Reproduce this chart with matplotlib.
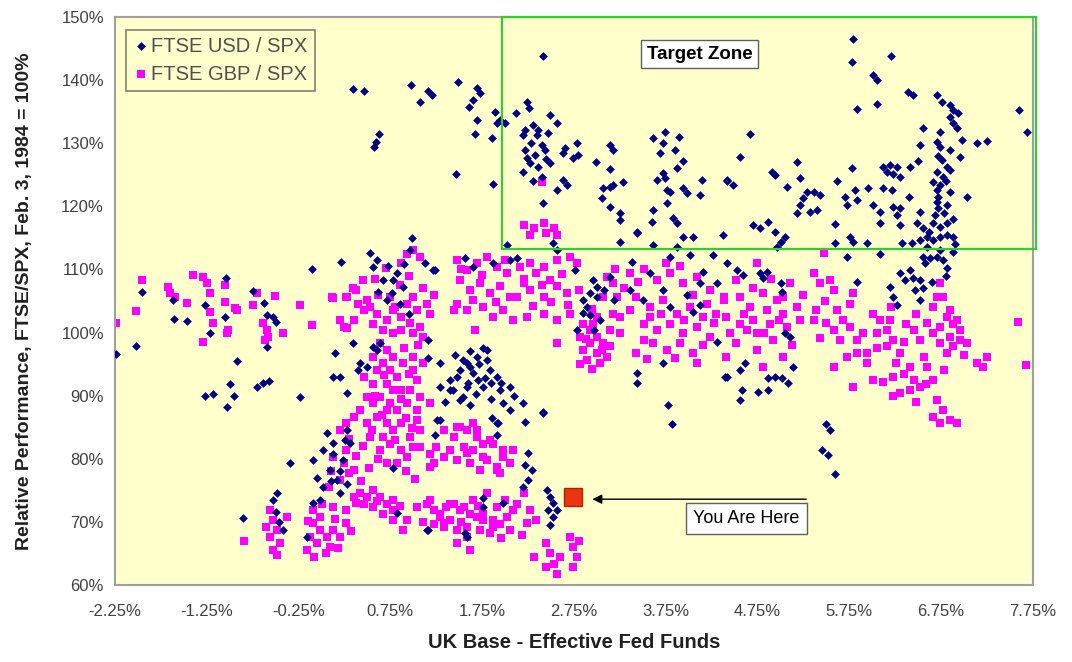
import matplotlib
matplotlib.use("Agg")
import matplotlib.pyplot as plt
from matplotlib.patches import Rectangle
import numpy as np

plt.rcParams['font.family'] = ['Liberation Sans', 'DejaVu Sans']

# FTSE USD / SPX  (x = UK base - eff. fed funds, %, y = relative performance, %)
usd_left = [(-2.24, 96.6), (-2.02, 97.9), (-1.96, 106.4), (-1.62, 105.1), (-1.61, 102.1), (-1.47, 101.8),
            (-1.04, 108.6), (-1.27, 104.4), (-1.05, 102.5), (-1.22, 99.9), (-0.92, 95.5), (-1.00, 91.8),
            (-1.27, 89.9), (-1.18, 90.3), (-0.95, 89.9), (-1.03, 88.2), (-0.70, 91.4), (-0.64, 92.0),
            (-0.57, 92.3), (-0.75, 106.6), (-0.63, 104.7), (-0.59, 102.8), (-0.53, 102.5), (-0.50, 101.7),
            (-0.59, 97.7), (-0.23, 89.8), (-0.10, 110.1), (0.21, 111.2), (0.15, 96.8), (0.20, 93.0),
            (0.12, 93.0), (0.34, 98.3), (0.53, 112.6), (0.56, 110.4), (0.67, 108.3), (0.78, 108.3),
            (0.77, 106.3), (0.82, 109.4), (0.89, 107.2), (0.99, 115.0), (0.96, 113.1), (0.71, 105.1),
            (0.56, 97.7), (0.60, 97.2), (0.64, 98.3), (0.42, 95.2), (0.50, 94.5), (0.40, 94.1), (0.28, 90.4),
            (0.60, 111.5), (0.72, 110.5), (0.90, 110.8), (0.85, 104.5), (0.95, 103.0), (0.62, 106.5)]
usd_mid = [(1.21, 109.9), (1.13, 111.0), (1.16, 98.8), (1.16, 96.0), (1.29, 95.2), (1.76, 97.5), (1.69, 96.1),
           (1.80, 95.6), (1.58, 95.2), (1.51, 94.1), (1.65, 93.6), (1.84, 94.1), (1.91, 93.0), (1.40, 92.5),
           (1.43, 90.9), (1.58, 91.4), (1.76, 91.4), (1.94, 90.9), (1.54, 89.8), (1.29, 91.4), (1.98, 88.8),
           (2.05, 87.7), (1.29, 86.1), (1.91, 85.7), (1.80, 97.2), (1.54, 95.6), (2.05, 91.4), (2.19, 88.8),
           (2.41, 87.4), (1.40, 90.9), (1.51, 89.3), (1.62, 97.0), (1.70, 92.5), (1.85, 92.0),
           (1.45, 96.5), (1.62, 94.5), (1.72, 95.0), (1.47, 93.0), (1.60, 92.0), (1.78, 92.8), (1.95, 92.0),
           (1.68, 90.2), (1.85, 89.5), (1.35, 89.0), (1.62, 88.5), (2.10, 90.0)]
usd_low = [(0.02, 81.4), (-0.09, 79.8), (0.09, 78.2), (0.23, 79.8), (0.31, 82.5), (0.28, 84.5), (0.06, 84.1),
           (0.17, 76.6), (0.02, 75.5), (0.20, 74.6), (-0.09, 73.0), (-0.02, 73.5), (-0.34, 79.3), (-0.49, 74.6),
           (-0.53, 73.5), (-0.86, 70.6), (-0.42, 68.7), (-0.16, 67.6), (0.78, 78.5), (0.82, 71.4), (1.16, 68.7),
           (1.58, 67.6), (1.76, 72.3), (1.98, 73.0), (-0.50, 71.5), (-0.46, 70.0), (0.12, 80.8), (0.25, 83.0),
           (2.25, 80.9), (2.22, 79.0), (2.29, 78.2), (2.25, 76.6), (2.19, 75.5), (2.46, 75.0), (2.49, 73.9),
           (2.52, 73.0), (2.47, 71.9), (2.52, 70.8), (2.49, 69.5), (2.56, 71.9), (1.26, 86.1), (1.24, 83.8),
           (1.86, 86.4), (1.92, 85.7), (1.91, 83.8), (2.22, 85.8), (2.41, 87.2), (1.76, 73.8), (1.15, 68.7),
           (1.56, 68.2), (3.82, 85.5), (3.77, 88.5), (0.12, 82.5), (0.20, 78.0), (0.10, 76.5), (-0.05, 77.0),
           (0.28, 76.0)]
usd_top_left = [(0.34, 138.6), (0.46, 138.3), (0.97, 139.2), (1.16, 138.3), (1.20, 137.6), (1.07, 136.5),
                (1.49, 139.7), (1.69, 138.7), (1.73, 138.0), (1.65, 136.8), (1.61, 135.7), (1.69, 133.7),
                (1.67, 131.4), (1.86, 130.8), (1.89, 135.0), (1.91, 133.2), (1.94, 133.7), (2.00, 133.2),
                (2.12, 134.8), (0.63, 131.4), (0.59, 130.2), (0.57, 129.4), (1.46, 125.1), (1.87, 123.5)]
usd_zone_a = [(2.41, 143.8), (2.24, 136.5), (2.26, 135.6), (2.49, 134.5), (2.56, 133.2), (2.22, 132.1),
              (2.19, 131.3), (2.30, 132.9), (2.36, 132.1), (2.35, 131.3), (2.47, 131.6), (2.22, 128.9),
              (2.24, 127.6), (2.27, 126.8), (2.40, 129.7), (2.43, 128.9), (2.33, 128.1), (2.49, 126.8),
              (2.36, 126.2), (2.19, 125.4), (2.40, 124.6), (2.41, 120.6), (2.65, 129.2), (2.63, 128.4),
              (2.78, 130.0), (2.74, 127.6), (2.79, 128.1), (2.99, 127.0), (3.14, 129.7), (3.17, 128.9),
              (3.14, 125.9), (2.63, 124.2), (2.67, 123.4), (2.56, 122.6), (3.07, 122.9), (3.14, 123.1),
              (3.17, 123.4), (3.28, 123.9), (3.06, 121.3), (3.14, 119.9), (3.25, 118.9), (3.25, 117.8),
              (3.44, 115.9), (3.60, 117.5), (3.61, 119.4), (3.61, 130.8), (3.74, 131.8), (3.89, 131.0),
              (3.72, 130.0), (3.85, 128.9), (3.69, 128.4), (3.94, 127.2), (3.87, 126.1), (3.72, 125.3),
              (3.74, 124.5), (3.65, 124.2), (3.76, 122.6), (3.80, 122.3), (3.94, 122.9), (3.98, 122.1),
              (3.76, 120.5), (4.14, 124.2), (4.12, 121.8), (4.42, 124.0), (3.83, 118.1), (3.87, 117.4),
              (2.28, 130.0), (2.45, 127.5), (2.30, 124.0)]
usd_zone_b = [(5.79, 146.5), (5.78, 142.9), (6.20, 143.8), (6.01, 140.8), (6.05, 140.0), (5.83, 135.4),
              (6.05, 136.2), (6.39, 138.1), (6.44, 137.6), (6.70, 137.6), (6.76, 136.5), (6.85, 136.1),
              (6.88, 135.3), (6.93, 134.8), (6.85, 134.2), (6.88, 133.2), (6.92, 132.4), (7.60, 135.3),
              (7.68, 131.8), (6.55, 132.4), (6.74, 131.8), (6.52, 129.7), (6.70, 130.2), (6.74, 129.4),
              (6.85, 128.9), (6.98, 130.5), (7.14, 130.0), (7.25, 130.3), (6.95, 127.8), (6.50, 127.2),
              (6.76, 127.3), (6.81, 126.2), (6.70, 125.4), (6.77, 124.6), (6.85, 125.8), (6.66, 123.9),
              (6.74, 123.4), (6.70, 122.6), (6.85, 122.3), (7.03, 121.5), (6.41, 126.2), (6.12, 126.2),
              (6.19, 126.5), (6.27, 126.2), (6.16, 125.4), (6.23, 125.1), (6.30, 124.6), (5.78, 126.1),
              (5.62, 124.0), (6.12, 122.9), (6.21, 122.6), (6.40, 121.5), (5.95, 122.9), (5.81, 122.6),
              (5.83, 121.0), (5.70, 121.5), (5.72, 120.2), (6.01, 120.2), (6.08, 119.1), (6.23, 119.9),
              (6.30, 119.7), (6.27, 118.6), (6.52, 119.1), (6.70, 120.7), (6.72, 119.7), (6.68, 118.6),
              (6.81, 120.2), (6.49, 117.4), (6.55, 116.6), (6.66, 117.4), (6.74, 116.7), (6.81, 117.4),
              (6.08, 117.4), (6.30, 117.0), (5.59, 117.2), (5.21, 124.5), (5.07, 123.1), (5.18, 127.0),
              (4.91, 125.4), (4.94, 125.0), (5.29, 122.3), (5.36, 122.3), (5.43, 121.8), (5.25, 121.3),
              (5.21, 120.2), (5.18, 118.9), (5.32, 119.1), (5.40, 119.4), (4.42, 124.2), (4.48, 123.4),
              (4.67, 131.5), (4.56, 127.8), (4.70, 117.0), (4.78, 116.6), (4.86, 117.5), (4.94, 115.9),
              (6.72, 128.0), (6.80, 124.0), (6.72, 121.5), (6.78, 119.0), (6.88, 118.0), (6.62, 116.0)]
usd_band = [(2.02, 113.9), (2.05, 111.5), (2.13, 111.8), (1.56, 111.8), (1.65, 110.4), (1.87, 111.0),
            (1.24, 109.9), (2.52, 114.2), (2.56, 113.1), (2.76, 109.9), (3.25, 114.3), (3.44, 115.7),
            (3.61, 113.9), (3.38, 111.2), (3.80, 112.0), (3.87, 113.6), (3.94, 115.1), (4.01, 112.3),
            (4.05, 115.1), (4.26, 112.3), (4.37, 115.5), (4.16, 109.6), (4.12, 107.8), (4.31, 107.8),
            (2.96, 108.3), (3.00, 107.2), (2.92, 106.3), (2.85, 105.2), (2.89, 104.1), (3.00, 105.6),
            (2.78, 100.4), (2.85, 103.1), (3.14, 108.8), (3.36, 106.7), (3.50, 105.2), (3.58, 109.4),
            (3.72, 106.7), (3.80, 104.1), (3.98, 105.9), (4.05, 103.2), (4.12, 104.4), (4.31, 98.5),
            (3.72, 95.2), (3.44, 93.6), (3.44, 92.0), (4.40, 92.9), (2.92, 102.8), (3.03, 102.0),
            (2.97, 100.4), (3.08, 106.7), (3.19, 105.2)]
usd_right = [(4.42, 111.0), (4.53, 109.9), (4.59, 109.1), (4.78, 109.4), (4.81, 108.6), (4.85, 109.6),
             (5.00, 107.8), (5.02, 106.4), (5.10, 99.3), (5.05, 99.9), (4.42, 92.9), (4.56, 94.1),
             (4.61, 95.2), (4.58, 90.9), (4.56, 89.3), (4.75, 90.6), (4.86, 90.9), (4.86, 92.8),
             (4.94, 93.0), (5.02, 92.8), (5.08, 92.0), (5.14, 94.5), (5.00, 114.3), (5.05, 115.1),
             (4.96, 113.6), (5.59, 114.2), (5.72, 112.0), (5.76, 115.1), (5.79, 114.3), (5.94, 114.2),
             (6.08, 112.4), (5.83, 108.0), (6.19, 107.2), (6.23, 105.6), (6.27, 104.4), (6.30, 109.4),
             (6.41, 109.9), (6.44, 108.6), (6.52, 108.3), (6.55, 107.0), (6.32, 114.2), (6.43, 114.2),
             (6.52, 114.7), (6.60, 115.1), (6.66, 114.7), (6.74, 115.1), (6.81, 115.5), (6.88, 115.1),
             (6.60, 113.6), (6.74, 113.1), (6.88, 112.8), (6.77, 111.5), (6.81, 110.2), (6.55, 112.0),
             (6.57, 111.0), (5.50, 85.5), (5.54, 84.5), (5.45, 81.4), (5.52, 80.6), (5.59, 77.6),
             (6.36, 108.3), (6.47, 106.7), (6.52, 105.2), (6.63, 111.8), (6.90, 114.0), (6.70, 112.0),
             (6.80, 109.0), (6.65, 108.0)]

# FTSE GBP / SPX
gbp_left = [(-2.24, 101.5), (-2.02, 103.4), (-1.96, 108.3), (-1.67, 107.2), (-1.65, 106.3), (-1.60, 105.6),
            (-1.47, 104.7), (-1.40, 109.1), (-1.29, 108.8), (-1.25, 107.8), (-1.22, 106.3), (-1.22, 103.2),
            (-1.18, 101.5), (-1.29, 98.5), (-1.05, 107.5), (-1.05, 104.8), (-0.94, 103.9), (-0.92, 103.6),
            (-1.02, 100.4), (-1.03, 99.9), (-0.75, 104.4), (-0.70, 106.3), (-0.51, 105.8), (-0.64, 101.5),
            (-0.59, 100.4), (-0.58, 99.3), (-0.62, 98.8), (-0.42, 99.9), (-0.23, 104.4), (-0.10, 101.2),
            (0.11, 105.6), (0.28, 105.6), (0.34, 107.1), (0.20, 102.0), (0.28, 100.7), (0.45, 108.3)]
gbp_column = [(0.13, 105.4), (0.27, 105.7), (0.38, 106.7), (0.49, 105.1), (0.46, 103.6), (0.53, 104.1),
              (0.60, 103.0), (0.56, 101.4), (0.71, 102.0), (0.78, 103.6), (0.86, 102.5), (0.93, 104.6),
              (1.00, 105.7), (1.04, 103.6), (0.96, 101.5), (1.07, 100.9), (1.15, 104.6), (1.18, 103.0),
              (0.93, 112.5), (1.00, 113.1), (1.07, 112.0), (0.86, 111.0), (0.75, 105.7), (0.67, 100.4),
              (0.78, 99.9), (0.86, 100.4), (1.00, 99.9), (1.11, 99.3), (0.35, 102.0), (0.24, 100.9),
              (0.20, 102.0), (0.64, 98.3), (0.71, 97.2), (0.78, 96.2), (0.67, 95.1), (0.75, 94.1),
              (0.82, 93.0), (0.71, 91.9), (0.78, 90.9), (0.64, 89.8), (0.75, 88.8), (0.82, 87.7),
              (0.60, 86.7), (0.71, 85.6), (0.78, 84.5), (0.67, 83.5), (0.75, 82.4), (0.86, 81.4),
              (0.64, 81.4), (0.53, 83.5), (0.49, 85.6), (0.42, 87.7), (0.49, 89.8), (0.56, 91.9),
              (0.46, 93.0), (0.35, 86.7), (0.27, 85.6), (0.20, 84.5), (0.89, 95.1), (1.00, 94.1),
              (1.04, 92.5), (0.96, 90.9), (1.07, 89.8), (0.93, 88.8), (1.00, 96.2), (1.11, 95.1),
              (1.18, 88.8), (1.04, 87.7), (0.96, 83.5), (1.07, 81.9), (1.18, 80.8), (0.93, 80.3),
              (0.82, 79.3), (0.71, 79.3), (0.56, 96.2), (0.60, 94.1), (0.86, 85.6), (0.56, 88.8),
              (0.71, 87.7), (0.86, 90.9), (0.40, 104.5), (0.62, 106.0), (0.85, 107.5), (0.70, 110.2),
              (0.95, 109.0), (1.10, 107.0), (1.22, 106.0), (0.58, 108.5), (0.80, 104.0), (1.05, 98.0),
              (0.90, 97.5), (0.95, 93.5), (0.68, 93.2), (0.58, 90.0), (0.86, 89.5), (0.66, 87.0),
              (0.92, 86.5), (0.55, 84.5), (0.80, 83.0), (0.98, 84.8), (0.62, 80.0), (0.45, 82.0),
              (0.38, 80.5), (0.30, 83.2), (0.52, 78.5), (0.92, 78.0), (1.02, 76.8), (0.43, 76.5),
              (0.30, 77.8), (0.10, 78.0), (0.08, 75.5)]
gbp_low = [(-0.09, 71.9), (-0.02, 70.8), (-0.09, 69.8), (-0.02, 68.7), (-0.13, 67.6), (-0.05, 66.6),
           (-0.16, 65.5), (0.06, 67.6), (0.13, 68.7), (0.20, 67.6), (0.09, 66.1), (0.27, 69.8), (0.27, 71.9),
           (0.13, 72.4), (0.35, 74.0), (0.42, 74.5), (0.49, 74.0), (0.56, 75.0), (0.64, 74.0), (0.71, 72.9),
           (0.78, 73.4), (0.46, 72.9), (0.56, 72.4), (0.67, 71.3), (0.78, 71.9), (0.20, 76.6), (0.24, 79.3),
           (0.27, 81.4), (0.13, 80.3), (0.35, 78.2), (0.78, 70.3), (0.93, 70.3), (0.89, 68.7), (1.04, 72.4),
           (1.15, 72.9), (1.22, 71.9), (1.29, 70.8), (1.36, 72.4), (1.44, 72.9), (1.55, 72.4), (1.62, 71.3),
           (1.69, 70.8), (1.76, 71.3), (1.87, 70.3), (1.94, 69.7), (2.02, 70.8), (2.09, 71.9), (1.22, 69.7),
           (1.33, 69.2), (1.47, 68.7), (1.58, 67.6), (1.47, 66.6), (1.73, 68.7), (1.84, 68.2), (1.40, 70.3),
           (-0.56, 71.9), (-0.53, 70.3), (-0.60, 69.2), (-0.49, 68.7), (-0.56, 67.6), (-0.45, 66.6),
           (-0.53, 65.5), (-0.49, 64.7), (-0.38, 70.8), (-0.85, 66.9), (0.38, 73.0), (0.60, 73.3),
           (0.85, 72.5), (0.15, 70.5), (0.00, 72.8), (-0.15, 70.2), (0.05, 65.0), (-0.08, 64.5),
           (0.18, 65.8), (0.32, 68.5), (1.10, 70.0), (1.52, 70.0), (1.70, 72.5), (2.00, 73.5),
           (2.18, 68.0), (1.95, 67.5), (1.62, 65.5)]
gbp_mid = [(1.33, 84.5), (1.44, 83.5), (1.58, 84.5), (1.69, 83.5), (1.76, 82.4), (1.65, 81.4), (1.55, 81.9),
           (1.40, 81.4), (1.33, 80.3), (1.47, 79.8), (1.62, 79.3), (1.80, 79.8), (1.91, 78.7), (1.98, 80.3),
           (2.05, 79.3), (1.73, 78.2), (2.09, 81.4), (1.47, 85.1), (1.65, 85.6), (1.87, 82.4), (1.94, 77.7),
           (1.07, 84.5), (1.22, 79.3), (1.25, 81.9), (1.51, 85.1), (1.69, 84.5), (1.84, 83.0), (1.98, 81.4),
           (1.40, 81.4), (1.58, 80.9), (1.76, 80.3), (1.91, 78.2), (1.04, 86.1), (1.18, 78.7), (1.00, 81.9),
           (1.04, 72.4), (1.18, 73.5), (1.29, 71.3), (1.40, 72.9), (1.51, 71.9), (1.65, 73.5), (1.80, 74.5),
           (1.91, 72.4), (2.02, 70.8), (2.13, 72.9), (2.20, 74.5), (2.27, 71.9), (2.24, 69.8), (2.34, 70.3),
           (1.33, 69.8), (1.58, 69.2), (1.76, 70.3), (1.87, 69.2), (2.05, 68.7), (2.31, 64.5),
           (2.45, 66.6), (2.49, 65.0), (2.53, 63.4), (2.56, 61.8), (2.45, 62.9), (2.60, 64.5), (2.71, 67.6),
           (2.74, 66.1), (2.78, 64.5), (2.74, 62.9), (2.80, 66.9)]
gbp_band = [(1.47, 111.5), (1.58, 109.9), (1.69, 111.0), (1.80, 112.0), (1.91, 110.4), (2.02, 109.4),
            (1.51, 108.3), (1.62, 106.7), (1.73, 107.8), (1.84, 106.2), (1.94, 107.3), (2.05, 105.7),
            (1.47, 104.6), (1.58, 103.6), (1.76, 104.1), (1.87, 102.5), (1.98, 103.6), (2.09, 102.0),
            (1.67, 100.4), (1.44, 103.6), (2.16, 110.4), (2.27, 111.0), (2.42, 110.4), (2.56, 111.5),
            (2.71, 112.0), (2.78, 111.0), (2.13, 105.7), (2.27, 106.7), (2.42, 105.7), (2.56, 107.3),
            (2.67, 106.2), (2.24, 102.5), (2.42, 103.0), (2.56, 102.0), (2.71, 103.0), (2.56, 98.3),
            (2.34, 109.4), (2.49, 108.3), (2.20, 107.8), (2.20, 117.0), (2.31, 116.5), (2.42, 117.3),
            (2.53, 116.5), (2.27, 115.5), (2.45, 115.7), (2.56, 115.5), (2.40, 123.9),
            (2.85, 101.4), (2.92, 100.4), (3.00, 99.3), (3.07, 98.3), (2.92, 98.3), (2.85, 97.2),
            (3.00, 96.7), (3.11, 96.2), (2.89, 95.6), (3.03, 95.1), (3.14, 100.4), (3.18, 103.0),
            (3.07, 105.7), (3.18, 107.8), (3.11, 108.8), (3.22, 105.7), (3.00, 102.5), (2.82, 99.3),
            (2.96, 101.4), (3.14, 97.8), (3.25, 99.9), (3.36, 109.4), (3.51, 110.0), (3.65, 108.3),
            (3.80, 109.4), (3.94, 107.8), (4.09, 108.8), (4.23, 106.7), (4.38, 105.7), (3.43, 105.7),
            (3.58, 104.1), (3.72, 105.1), (3.87, 103.0), (4.01, 104.1), (4.16, 102.5), (4.30, 103.0),
            (3.51, 101.4), (3.65, 100.4), (3.80, 101.4), (3.94, 99.9), (4.09, 100.9), (4.23, 99.3),
            (3.61, 98.3), (3.76, 97.2), (3.91, 98.3), (4.05, 96.7), (4.09, 95.1), (3.43, 96.7),
            (4.41, 96.2), (3.51, 98.8), (3.36, 103.6), (3.25, 102.5), (1.52, 110.0), (1.75, 109.2),
            (2.00, 111.5), (2.20, 108.5), (2.40, 107.5), (2.62, 109.3), (2.80, 106.8), (1.65, 105.2),
            (1.90, 104.8), (2.30, 104.2), (2.50, 104.8), (2.68, 104.3), (2.95, 103.8), (2.82, 95.0),
            (2.95, 94.2), (2.88, 99.0), (3.05, 97.3), (3.20, 110.0), (3.30, 107.0), (3.45, 108.0),
            (3.75, 111.0), (3.90, 110.5), (4.05, 106.0), (4.20, 104.5), (3.58, 102.5), (3.70, 103.0),
            (3.95, 102.0), (4.15, 98.0), (3.85, 96.0), (3.55, 95.8)]
gbp_right = [(4.38, 105.1), (4.41, 102.5), (4.41, 96.2), (4.52, 108.3), (4.56, 105.7), (4.56, 101.4),
             (4.52, 98.3), (4.67, 104.1), (4.70, 102.0), (4.74, 99.9), (4.74, 97.2), (4.74, 111.0),
             (4.85, 103.6), (4.89, 101.4), (4.92, 98.8), (4.96, 105.1), (5.03, 103.0), (5.07, 100.9),
             (5.10, 107.8), (5.18, 104.1), (5.21, 102.0), (5.03, 96.2), (4.81, 94.6), (5.03, 105.7),
             (4.63, 100.4), (4.81, 106.2), (5.36, 109.4), (5.43, 107.8), (5.54, 108.3), (5.58, 106.7),
             (5.39, 103.6), (5.36, 102.0), (5.43, 99.1), (5.61, 103.6), (5.58, 100.4), (5.65, 98.8),
             (5.76, 100.9), (5.79, 106.2), (5.76, 104.6), (5.83, 98.8), (5.72, 96.2), (5.83, 96.7),
             (5.94, 96.7), (5.58, 94.6), (5.79, 91.4), (5.47, 112.6), (6.01, 103.0), (6.08, 102.0),
             (6.05, 99.9), (6.16, 100.4), (6.19, 102.0), (6.23, 98.8), (6.16, 97.8), (6.30, 96.7),
             (6.26, 95.1), (6.34, 93.5), (6.41, 94.6), (6.45, 92.5), (6.52, 91.4), (6.59, 91.9),
             (6.66, 92.5), (6.37, 101.4), (6.45, 100.4), (6.48, 103.0), (6.52, 98.8), (6.56, 96.2),
             (6.01, 92.5), (6.12, 92.2), (6.30, 90.4), (6.41, 90.9), (5.94, 95.1), (6.23, 93.0),
             (6.74, 107.8), (6.77, 105.7), (6.66, 104.1), (6.81, 102.5), (6.74, 100.9), (6.88, 101.4),
             (6.96, 100.4), (6.85, 99.3), (6.74, 98.3), (6.88, 97.8), (6.81, 96.7), (7.03, 98.3),
             (6.66, 99.9), (6.92, 102.0), (6.70, 105.7), (6.70, 89.3), (6.77, 87.7), (6.66, 86.7),
             (6.74, 85.6), (6.85, 86.1), (6.92, 85.6), (7.14, 95.1), (7.25, 96.2), (7.21, 94.6),
             (7.59, 101.6), (7.67, 94.8), (4.28, 101.5), (4.45, 100.0), (4.60, 103.0), (4.82, 100.0),
             (4.98, 102.0), (5.12, 98.0), (4.70, 107.0), (4.90, 108.5), (5.25, 106.0), (5.48, 105.0),
             (5.50, 101.5), (5.68, 102.0), (5.90, 100.0), (6.05, 97.5), (6.20, 104.0), (6.35, 98.5),
             (6.60, 101.5), (6.85, 103.5), (6.95, 98.8), (6.60, 94.5), (6.78, 94.0), (7.00, 96.5),
             (6.48, 89.0), (6.22, 90.0)]

you_are_here = (2.74, 73.9)
x_ticks = np.arange(-2.25, 7.76, 1.0)
y_ticks = np.arange(60, 151, 10)

usd = np.array(usd_left + usd_mid + usd_low + usd_top_left + usd_zone_a + usd_zone_b + usd_band + usd_right)
gbp = np.array(gbp_left + gbp_column + gbp_low + gbp_mid + gbp_band + gbp_right)

fig = plt.figure(figsize=(10.72, 6.62), dpi=100)
ax = fig.add_axes([0.1073, 0.1163, 0.8563, 0.858])
ax.set_facecolor('#ffffcc')

ax.scatter(gbp[:, 0], gbp[:, 1], marker='s', s=28, color='#ff00ff', linewidths=0, zorder=2,
           label='FTSE GBP / SPX')
ax.scatter(usd[:, 0], usd[:, 1], marker='D', s=20, color='#000080', linewidths=0, zorder=3,
           label='FTSE USD / SPX')
ax.plot(*you_are_here, marker='s', markersize=13, color='#ee3311', markeredgecolor='#b02000', zorder=4)

ax.set_xlim(-2.25, 7.75)
ax.set_ylim(60, 150)
ax.set_xticks(x_ticks)
ax.set_xticklabels(['%.2f%%' % v for v in x_ticks])
ax.set_yticks(y_ticks)
ax.set_yticklabels(['%d%%' % v for v in y_ticks])
ax.tick_params(labelsize=12, colors='#404040', length=0, pad=14)
ax.tick_params(axis='y', pad=8)

for side in ['left', 'bottom', 'right', 'top']:
    ax.spines[side].set_color('#a0a0a0')
    ax.spines[side].set_linewidth(1.5)

ax.set_xlabel('UK Base - Effective Fed Funds', fontsize=14.5, fontweight='bold', color='#202020', labelpad=10)
ax.set_ylabel('Relative Performance, FTSE/SPX, Feb. 3, 1984 = 100%', fontsize=14, fontweight='bold',
              color='#202020', labelpad=20)

# target zone box
zone = Rectangle((1.97, 113.2), 5.81, 36.8, fill=False, edgecolor='#33cc33', linewidth=1.6,
                 clip_on=False, zorder=5)
ax.add_patch(zone)
ax.text(4.12, 144.1, 'Target Zone', fontsize=13.5, fontweight='bold', ha='center', va='center', zorder=6,
        bbox=dict(boxstyle='square,pad=0.3', facecolor='white', edgecolor='#606060', linewidth=1))

# you are here annotation
ax.annotate('', xy=(2.92, 73.6), xytext=(5.31, 73.6),
            arrowprops=dict(arrowstyle='-|>', color='black', linewidth=1, mutation_scale=14), zorder=6)
ax.text(4.63, 70.5, 'You Are Here', fontsize=13, ha='center', va='center', zorder=6,
        bbox=dict(boxstyle='square,pad=0.4', facecolor='white', edgecolor='#606060', linewidth=1))

handles, labels = ax.get_legend_handles_labels()
leg = ax.legend(handles[::-1], labels[::-1], loc='upper left', bbox_to_anchor=(0.012, 0.978),
                borderaxespad=0, fontsize=14.5, frameon=True, fancybox=False, handletextpad=0.1,
                handlelength=0.8, borderpad=0.35, labelspacing=0.45, markerscale=1.0)
leg.get_frame().set_facecolor('#ffffcc')
leg.get_frame().set_edgecolor('#606060')
leg.get_frame().set_linewidth(1.2)
for t in leg.get_texts():
    t.set_color('#505050')

fig.savefig('out.png', dpi=100)
